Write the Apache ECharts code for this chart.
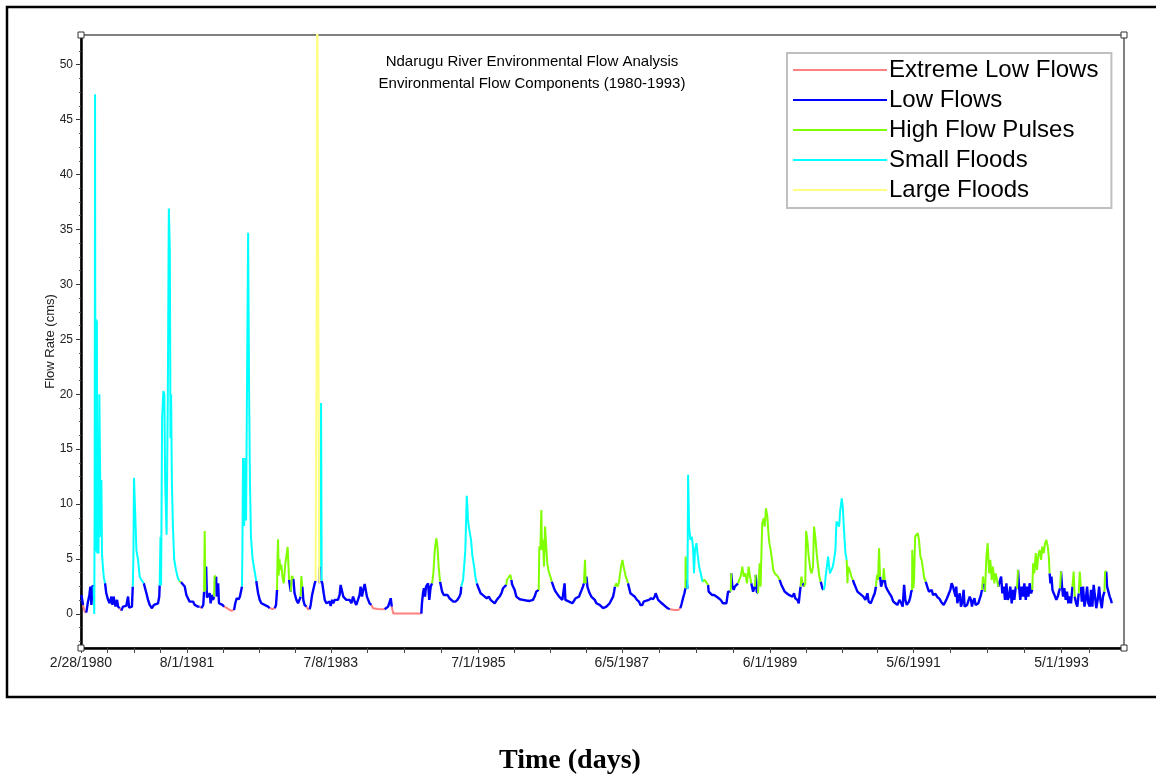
<!DOCTYPE html>
<html>
<head>
<meta charset="utf-8">
<title>Ndarugu River Environmental Flow Components</title>
<script src="https://cdn.jsdelivr.net/npm/echarts@6/dist/echarts.min.js"></script>
<style>
  html, body { margin: 0; padding: 0; background: #ffffff; }
  #chart { width: 1156px; height: 777px; }
</style>
</head>
<body>
<div id="chart"></div>
<script>
// series names / colours (legend order)
const componentNames = ['Extreme Low Flows', 'Low Flows', 'High Flow Pulses', 'Small Floods', 'Large Floods'];
const componentKeys = ['E', 'L', 'H', 'S', 'F'];
const componentColors = ['#ff8080', '#0000ff', '#80ff00', '#00ffff', '#ffff80'];

// x axis: days since 2/28/1980
const startDate = '1980-02-28';
const xLabelDates = ['1980-02-28', '1981-08-01', '1983-07-08', '1985-07-01', '1987-06-05', '1989-06-01', '1991-05-06', '1993-05-01'];
const xExtraTickDates = ['1993-09-13'];
const xAxisEndDay = 5118;

// y axis
const yLabelValues = [0, 5, 10, 15, 20, 25, 30, 35, 40, 45, 50];
const yAxisMin = -3.1;
const yAxisMax = 52.7;

const titleLines = ['Ndarugu River Environmental Flow Analysis', 'Environmental Flow Components (1980-1993)'];

// flow record (day offset, flow in cms, component code)
const dayOffset = [
  2, 10, 18, 26, 33, 41, 46, 51, 57, 62,
  65, 67, 69, 71, 74, 78, 80, 83, 86, 90,
  94, 97, 100, 103, 107, 112, 118, 124, 133, 141,
  149, 154, 160, 169, 177, 182, 190, 198, 206, 214,
  222, 231, 236, 244, 250, 254, 257, 260, 268, 272,
  280, 288, 296, 308, 312, 321, 329, 337, 348, 358,
  366, 378, 384, 386, 390, 393, 398, 404, 409, 413,
  420, 426, 431, 436, 439, 442, 446, 451, 457, 466,
  475, 482, 486, 490, 496, 509, 517, 525, 533, 542,
  550, 558, 566, 574, 582, 591, 600, 604, 607, 610,
  614, 618, 623, 632, 636, 643, 648, 653, 656, 663,
  666, 673, 677, 685, 694, 702, 708, 717, 725, 735,
  743, 751, 757, 764, 774, 780, 787, 790, 792, 795,
  800, 803, 806, 810, 820, 825, 829, 834, 842, 851,
  860, 869, 877, 885, 893, 901, 910, 918, 926, 934,
  942, 951, 957, 962, 964, 967, 970, 974, 979, 983,
  989, 995, 1002, 1014, 1021, 1029, 1035, 1042, 1048, 1057,
  1065, 1073, 1078, 1081, 1086, 1088, 1091, 1097, 1106, 1114,
  1122, 1127, 1134, 1140, 1147, 1151, 1153, 1156, 1159, 1166,
  1169, 1171, 1175, 1178, 1181, 1184, 1191, 1196, 1204, 1212,
  1220, 1225, 1232, 1238, 1245, 1253, 1261, 1269, 1274, 1281,
  1287, 1294, 1302, 1310, 1318, 1327, 1335, 1343, 1351, 1359,
  1367, 1372, 1379, 1385, 1392, 1398, 1403, 1408, 1416, 1425,
  1433, 1441, 1457, 1474, 1490, 1498, 1507, 1515, 1520, 1525,
  1529, 1533, 1670, 1673, 1678, 1683, 1688, 1693, 1700, 1703,
  1709, 1716, 1723, 1729, 1736, 1744, 1749, 1755, 1762, 1765,
  1772, 1780, 1788, 1798, 1808, 1817, 1827, 1837, 1847, 1857,
  1863, 1866, 1875, 1880, 1886, 1893, 1896, 1899, 1904, 1909,
  1914, 1920, 1929, 1935, 1942, 1945, 1951, 1961, 1971, 1981,
  1991, 2001, 2010, 2020, 2030, 2040, 2046, 2054, 2063, 2071,
  2079, 2087, 2090, 2099, 2107, 2112, 2115, 2120, 2128, 2136,
  2144, 2153, 2169, 2185, 2202, 2218, 2226, 2234, 2241, 2246,
  2249, 2254, 2259, 2262, 2267, 2272, 2277, 2283, 2288, 2295,
  2303, 2310, 2313, 2321, 2329, 2337, 2346, 2354, 2362, 2370,
  2373, 2377, 2385, 2395, 2403, 2411, 2419, 2427, 2436, 2444,
  2450, 2457, 2463, 2468, 2473, 2477, 2480, 2485, 2490, 2496,
  2504, 2513, 2521, 2529, 2537, 2545, 2553, 2562, 2570, 2578,
  2586, 2594, 2602, 2611, 2616, 2620, 2627, 2632, 2639, 2643,
  2650, 2657, 2661, 2666, 2673, 2679, 2684, 2688, 2696, 2706,
  2717, 2728, 2738, 2745, 2755, 2761, 2771, 2778, 2787, 2797,
  2807, 2815, 2820, 2827, 2832, 2840, 2850, 2859, 2869, 2879,
  2889, 2897, 2913, 2930, 2941, 2948, 2954, 2961, 2966, 2967,
  2971, 2976, 2979, 2984, 2990, 2997, 3003, 3008, 3013, 3020,
  3025, 3033, 3041, 3049, 3060, 3068, 3077, 3080, 3087, 3096,
  3106, 3118, 3129, 3139, 3150, 3158, 3167, 3175, 3183, 3188,
  3191, 3196, 3203, 3208, 3216, 3224, 3230, 3237, 3245, 3252,
  3260, 3268, 3276, 3283, 3289, 3298, 3306, 3311, 3316, 3322,
  3325, 3330, 3335, 3338, 3343, 3350, 3355, 3361, 3368, 3373,
  3378, 3384, 3391, 3397, 3404, 3412, 3420, 3428, 3437, 3445,
  3453, 3463, 3473, 3482, 3492, 3499, 3505, 3515, 3522, 3527,
  3531, 3535, 3541, 3548, 3554, 3558, 3564, 3571, 3579, 3585,
  3592, 3597, 3603, 3610, 3617, 3623, 3630, 3633, 3638, 3644,
  3649, 3654, 3661, 3666, 3671, 3675, 3682, 3689, 3695, 3702,
  3707, 3713, 3720, 3726, 3733, 3738, 3744, 3751, 3757, 3761,
  3764, 3772, 3780, 3788, 3793, 3800, 3810, 3819, 3829, 3839,
  3849, 3859, 3865, 3875, 3882, 3888, 3895, 3901, 3906, 3911,
  3916, 3921, 3926, 3931, 3936, 3939, 3944, 3949, 3957, 3967,
  3977, 3986, 3996, 4006, 4016, 4025, 4032, 4039, 4045, 4052,
  4063, 4070, 4074, 4078, 4079, 4084, 4088, 4093, 4099, 4106,
  4112, 4119, 4125, 4132, 4138, 4145, 4148, 4155, 4161, 4168,
  4174, 4181, 4187, 4194, 4200, 4207, 4214, 4220, 4227, 4233,
  4240, 4246, 4253, 4259, 4266, 4272, 4279, 4286, 4292, 4295,
  4300, 4305, 4312, 4318, 4325, 4331, 4336, 4341, 4348, 4354,
  4361, 4367, 4372, 4377, 4384, 4390, 4397, 4403, 4410, 4416,
  4421, 4426, 4431, 4436, 4443, 4449, 4456, 4462, 4469, 4475,
  4482, 4488, 4495, 4501, 4508, 4515, 4521, 4528, 4534, 4541,
  4547, 4554, 4560, 4567, 4574, 4580, 4587, 4593, 4598, 4603,
  4609, 4616, 4623, 4629, 4636, 4642, 4649, 4655, 4662, 4668,
  4672, 4678, 4685, 4691, 4698, 4704, 4711, 4717, 4724, 4731,
  4737, 4744, 4749, 4753, 4757, 4762, 4767, 4773, 4780, 4786,
  4793, 4799, 4804, 4809, 4814, 4819, 4825, 4832, 4838, 4845,
  4852, 4858, 4865, 4871, 4876, 4883, 4889, 4896, 4901, 4906,
  4911, 4917, 4924, 4930, 4937, 4943, 4950, 4956, 4963, 4969,
  4976, 4982, 4989, 4996, 5002, 5009, 5015, 5022, 5025, 5031,
  5035, 5041, 5048, 5054, 5058
];

const flowRate = [
  1.73, 0.82, 0.21, 0.12, 0.97, 1.73, 2.49, 0.82, 2.58, 2.49,
  0, 10, 47.3, 5.7, 26.8, 26.6, 5.5, 9, 5.5, 20,
  20, 7, 12.2, 5.5, 4.4, 3.3, 2.8, 1.88, 1.28, 0.97,
  1.58, 0.82, 1.58, 0.67, 1.28, 0.67, 0.52, 0.3, 0.67, 0.52,
  0.73, 1.58, 0.58, 0.52, 0.67, 2.49, 5, 12.4, 12.4, 5.8,
  4.9, 3.4, 3.1, 2.8, 2.79, 1.88, 1.28, 0.82, 0.52, 0.82,
  0.97, 0.97, 1.58, 2.6, 7, 2.6, 17.8, 20.3, 20, 12,
  7.2, 19.8, 36.9, 33, 16, 20, 12, 8, 5, 4,
  3.3, 3, 3.1, 2.9, 2.9, 2.49, 1.73, 1.58, 1.12, 0.97,
  1.12, 0.82, 0.82, 0.67, 0.67, 0.52, 0.82, 2.03, 7.56, 2.1,
  4.31, 1.5, 1.58, 1.88, 0.97, 1.73, 1.28, 1.58, 3.46, 3.4,
  1.58, 2.8, 0.97, 0.97, 0.82, 0.67, 0.52, 0.52, 0.52, 0.3,
  0.12, 0.36, 0.97, 1.43, 1.34, 1.58, 1.58, 2.49, 5.8, 14.2,
  8, 9, 14.2, 8.5, 34.7, 20, 12, 7, 5, 4,
  3, 1.88, 1.28, 0.97, 0.82, 0.82, 0.67, 0.67, 0.52, 0.5,
  0.45, 0.52, 0.82, 2.19, 4.9, 6.8, 3.5, 5, 4, 4.5,
  3.3, 2.8, 4.5, 6.1, 3.1, 2.03, 3.46, 3.2, 1.88, 1.28,
  0.97, 1.12, 1.58, 3.46, 2.5, 2.49, 1.28, 0.82, 0.67, 0.43,
  0.43, 0.82, 1.73, 1.88, 2.79, 3, 11, 22.9, 60, 60,
  2.8, 4.3, 4.3, 19.2, 3, 2.79, 1.88, 1.28, 0.97, 0.82,
  1.12, 0.73, 1.28, 0.97, 1.28, 1.12, 1.28, 1.73, 2.64, 2.73,
  1.58, 1.43, 1.28, 1.12, 1.28, 0.97, 1.58, 1.12, 0.82, 0.97,
  1.73, 2.49, 1.58, 2.19, 2.73, 2.73, 1.58, 1.58, 0.97, 0.82,
  0.52, 0.43, 0.45, 0.43, 0.43, 0.52, 0.67, 1.12, 1.43, 0.67,
  0.3, 0.03, 0.03, 0.97, 1.88, 2.34, 1.58, 2.49, 2.49, 2.79,
  1.28, 2.49, 2.79, 3.7, 5.83, 6.89, 6.13, 4.31, 2.94, 2.79,
  2.03, 1.73, 1.58, 1.73, 1.43, 1.28, 1.12, 1.12, 1.28, 1.58,
  1.88, 2.49, 3.1, 4.31, 5.83, 10.75, 9.78, 8.56, 7.8, 7.95,
  6.74, 5.37, 4.31, 3.4, 2.79, 2.79, 2.34, 1.88, 1.73, 1.58,
  1.43, 1.58, 1.28, 1.12, 0.97, 1.28, 1.28, 1.58, 1.88, 2.34,
  2.49, 2.64, 3.1, 3.34, 3.55, 3.1, 2.73, 2.49, 2.19, 1.58,
  1.43, 1.34, 1.28, 1.22, 1.18, 1.28, 1.58, 2.03, 1.88, 2.19,
  6.13, 5.83, 9.47, 5.83, 6.74, 4.31, 7.95, 6.13, 4.61, 3.86,
  3.4, 2.94, 2.79, 2.34, 2.03, 1.88, 1.58, 1.43, 1.28, 1.28,
  2.79, 1.28, 1.28, 1.12, 0.97, 0.97, 1.12, 1.43, 1.58, 1.58,
  1.88, 2.19, 2.49, 2.79, 4.92, 2.79, 3.4, 2.49, 2.19, 1.88,
  1.58, 1.43, 1.28, 0.97, 0.97, 0.82, 0.73, 0.52, 0.52, 0.67,
  0.82, 0.97, 1.03, 1.58, 2.03, 2.49, 2.79, 2.49, 2.79, 2.79,
  4.31, 4.92, 4.46, 4.01, 3.4, 3.1, 2.79, 2.79, 1.88, 1.73,
  1.58, 1.28, 1.12, 0.82, 0.82, 1.12, 1.18, 1.12, 1.28, 1.43,
  1.34, 1.58, 1.88, 1.73, 1.28, 1.12, 0.97, 0.82, 0.67, 0.52,
  0.43, 0.36, 0.36, 0.36, 0.52, 0.97, 1.43, 1.88, 2.34, 5.22,
  3.1, 2.3, 12.66, 7.95, 6.74, 7.04, 6.13, 3.7, 5.83, 6.44,
  5.53, 4.31, 3.7, 2.94, 3.1, 2.94, 2.64, 2.03, 1.88, 1.73,
  1.73, 1.58, 1.43, 1.28, 0.97, 0.82, 0.97, 2.03, 2.19, 2.03,
  3.7, 2.49, 2.19, 2.49, 2.34, 2.79, 3.1, 3.4, 4.31, 3.4,
  3.7, 2.79, 4.31, 3.4, 2.79, 2.03, 2.49, 3.55, 2.03, 1.88,
  2.79, 4.61, 2.49, 4.92, 8.26, 8.71, 7.95, 9.62, 8.86, 7.35,
  6.44, 5.83, 4.92, 4.01, 3.7, 3.55, 3.4, 3.1, 2.64, 2.34,
  2.03, 1.88, 1.73, 1.88, 1.58, 1.88, 1.43, 1.28, 0.97, 1.88,
  2.49, 3.4, 2.79, 2.49, 2.79, 7.56, 6.74, 5.22, 4.01, 3.7,
  4.31, 7.95, 7.04, 5.53, 4.31, 3.4, 2.94, 2.79, 2.34, 2.19,
  2.49, 3.4, 3.4, 5.22, 4.31, 3.7, 3.7, 4.31, 4.92, 5.83,
  8.41, 8.56, 7.95, 9.47, 10.53, 9.78, 7.65, 5.53, 4.92, 2.79,
  4.31, 4.01, 3.4, 3.1, 2.79, 2.49, 2.03, 1.88, 1.73, 1.58,
  1.28, 1.88, 1.12, 0.97, 1.28, 1.58, 1.88, 2.49, 3.55, 3.1,
  5.98, 3.4, 2.49, 2.64, 3.1, 4.16, 3.1, 2.49, 2.19, 1.88,
  1.58, 1.12, 0.97, 0.82, 1.28, 0.97, 0.67, 2.64, 1.28, 0.82,
  1.12, 1.58, 2.03, 2.19, 5.83, 2.34, 3.1, 7.04, 7.19, 7.35,
  6.74, 5.22, 4.92, 4.01, 3.25, 2.94, 2.79, 2.34, 2.03, 1.88,
  2.19, 1.73, 1.58, 1.82, 1.58, 1.43, 1.34, 1.12, 0.97, 0.82,
  0.97, 1.28, 1.58, 1.88, 2.19, 2.79, 2.49, 2.64, 1.58, 2.49,
  0.97, 0.82, 1.88, 0.67, 1.12, 2.19, 0.67, 0.52, 0.82, 0.82,
  1.58, 1.28, 0.67, 1.12, 1.43, 0.82, 0.67, 0.97, 1.12, 1.73,
  2.19, 3.4, 2.79, 2.03, 5.22, 6.44, 3.7, 4.92, 3.1, 4.31,
  2.79, 3.7, 3.1, 2.49, 2.49, 3.4, 1.88, 2.49, 1.28, 2.79,
  1.28, 1.58, 2.49, 0.97, 2.19, 1.28, 2.49, 2.3, 4.01, 2.49,
  1.28, 2.49, 1.58, 2.79, 1.28, 2.49, 1.58, 2.79, 1.88, 2.19,
  4.61, 3.7, 5.53, 4.01, 5.37, 5.83, 4.92, 6.13, 5.53, 6.44,
  6.74, 6.13, 5.22, 3.7, 2.79, 3.4, 2.19, 1.88, 1.58, 1.28,
  1.58, 2.03, 2.34, 3.86, 2.49, 1.58, 2.34, 1.28, 2.03, 0.97,
  1.58, 0.97, 2.49, 3.86, 1.58, 0.97, 0.67, 1.88, 3.86, 2.49,
  1.12, 2.49, 0.67, 1.28, 2.49, 0.97, 0.67, 2.19, 0.67, 2.64,
  1.58, 0.52, 1.28, 2.49, 1.28, 0.52, 1.58, 2.03, 3.86, 3.86,
  2.49, 2.49, 1.58, 1.28, 0.97
];

// E = extreme low, L = low, H = high flow pulse, S = small flood, F = large flood
const componentCodes = (
  'LLEELLLLLL' + 'SSSSSSSSSS' + 'SSSSSSSLLL' + 'LLLLLLLELL' + 'LLLLLLSSSS' +
  'SSSSLLLLLL' + 'LLLLSSSSSS' + 'SSSSSSSSSS' + 'SSHHLLLLLL' + 'LLLLLELLHH' +
  'LLLLLLLLHH' + 'LLLLLLEEEE' + 'EELLLLLLSS' + 'SSSSSSSSSS' + 'SLLLLLLLLE' +
  'EELLHHHHHH' + 'HHHHHLHHLL' + 'LLLHHLLLLE' + 'ELLLLLFFFF' + 'FLLSSLLLLL' +
  'LLLLLLLLLL' + 'LLLLLLLLLL' + 'LLLLLLLLLL' + 'EEEEELLLLL' + 'EEELLLLLLL' +
  'LLLHHHHHHL' + 'LLLLLLLLLL' + 'LLSSSSSSSS' + 'SSSSSLLLLL' + 'LLLLLLLLLL' +
  'LLHHHHLLLL' + 'LLLLLLLLLL' + 'HHHHHHHHHH' + 'HHLLLLLLLL' + 'LLLLLLLLLL' +
  'LLLLHHLLLL' + 'LLLLLLLLLL' + 'LLLLLLHHHH' + 'HHHHHHHLLL' + 'LLLLLLLLLL' +
  'LLLLLLLLLL' + 'LEEEELLLLH' + 'HLSSSSSSSS' + 'SSSSHHHLLL' + 'LLLLLLLLLL' +
  'HLLLLLHHHH' + 'HHHHHLLHLL' + 'HHHHHHHHHH' + 'HHHHHHHHLL' + 'LLLLLLLLLL' +
  'LHHLHHHHHH' + 'HHHHHHHLLL' + 'SSSSSSSSSS' + 'SSSSSSSSSH' + 'HHHHLLLLLL' +
  'LLLLLLLLHH' + 'HHLLLHHLLL' + 'LLLLLLLLLL' + 'LLLLHHHHHH' + 'HHHHHHLLLL' +
  'LLLLLLLLLL' + 'LLLLLLLLLL' + 'LLLLLLLLLL' + 'LLLLLLLLLL' + 'LHHLHHHHHH' +
  'HHHHLLLLLL' + 'LLLLLLLLHL' + 'LLLLLLLLLL' + 'HHHHHHHHHH' + 'HHHHLLLLLL' +
  'LLLHLLLLLL' + 'LLLHHLLLHH' + 'LLLLLLLLLL' + 'LLLLLLLLHH' + 'LLLLL'
).split('');

if (dayOffset.length !== flowRate.length || dayOffset.length !== componentCodes.length) {
  console.error('data length mismatch', dayOffset.length, flowRate.length, componentCodes.length);
}

function toDay(s) {
  const p = s.split('-').map(Number);
  const q = startDate.split('-').map(Number);
  return Math.round((Date.UTC(p[0], p[1] - 1, p[2]) - Date.UTC(q[0], q[1] - 1, q[2])) / 86400000);
}

function dayLabel(v) {
  const q = startDate.split('-').map(Number);
  const d = new Date(Date.UTC(q[0], q[1] - 1, q[2]) + Math.round(v) * 86400000);
  return (d.getUTCMonth() + 1) + '/' + d.getUTCDate() + '/' + d.getUTCFullYear();
}

const xLabelDays = xLabelDates.map(toDay);
// minor ticks: each labelled interval split in four
const xTickDays = [];
for (let i = 0; i < xLabelDays.length; i++) {
  xTickDays.push(xLabelDays[i]);
  if (i < xLabelDays.length - 1) {
    const a = xLabelDays[i], b = xLabelDays[i + 1];
    for (let k = 1; k < 4; k++) xTickDays.push(a + (b - a) * k / 4);
  }
}
xExtraTickDates.forEach(d => xTickDays.push(toDay(d)));

const yMinorTicks = [];
for (let v = -2.5; v <= 52.5; v += 1.25) yMinorTicks.push(v);

// each segment (i-1 -> i) gets the colour of point i's component
function segmentsFor(key) {
  const out = [];
  let last = -2;
  for (let i = 1; i < dayOffset.length; i++) {
    if (componentCodes[i] !== key) continue;
    if (last !== i - 1) {
      if (out.length) out.push([dayOffset[i - 1], '-']);
      out.push([dayOffset[i - 1], flowRate[i - 1]]);
    }
    out.push([dayOffset[i], flowRate[i]]);
    last = i;
  }
  return out;
}

const chart = echarts.init(document.getElementById('chart'));

const font = 'Liberation Sans, Arial, sans-serif';

chart.setOption({
  animation: false,
  backgroundColor: '#ffffff',
  title: [
    {
      text: titleLines.join('\n'),
      left: 532,
      top: 51,
      textAlign: 'center',
      padding: 0,
      textStyle: { fontFamily: font, fontSize: 15, lineHeight: 22, fontWeight: 'normal', color: '#000' }
    },
    {
      text: 'Time (days)',
      left: 570,
      top: 745,
      textAlign: 'center',
      padding: 0,
      textStyle: { fontFamily: 'Liberation Serif, Times New Roman, serif', fontSize: 28, lineHeight: 32, fontWeight: 'bold', color: '#000' }
    }
  ],
  legend: {
    orient: 'vertical',
    left: 787,
    top: 53,
    icon: 'rect',
    itemWidth: 94,
    itemHeight: 2,
    itemGap: 0,
    padding: [2, 13, 3, 6],
    backgroundColor: '#ffffff',
    borderColor: '#c0c0c0',
    borderWidth: 2,
    selectedMode: false,
    textStyle: { fontFamily: font, fontSize: 24, lineHeight: 30, color: '#000', padding: [0, 0, 0, -3] },
    data: componentNames
  },
  grid: {
    left: 81,
    right: 32,
    top: 35,
    bottom: 129,
    show: true,
    borderColor: '#808080',
    borderWidth: 2
  },
  xAxis: {
    type: 'value',
    min: 0,
    max: xAxisEndDay,
    axisLine: { show: true, onZero: false, lineStyle: { color: '#000', width: 2.5 } },
    axisTick: { show: true, customValues: xTickDays, length: 5, lineStyle: { color: '#444' } },
    axisLabel: { customValues: xLabelDays, formatter: dayLabel, fontFamily: font, fontSize: 14, color: '#222', margin: 8 },
    splitLine: { show: false }
  },
  yAxis: [
    {
      type: 'value',
      min: yAxisMin,
      max: yAxisMax,
      name: 'Flow Rate (cms)',
      nameLocation: 'middle',
      nameGap: 24,
      nameMoveOverlap: false,
      nameTextStyle: { fontFamily: font, fontSize: 13, color: '#222' },
      axisLine: { show: true, onZero: false, lineStyle: { color: '#000', width: 2.5 } },
      axisTick: { show: true, customValues: yMinorTicks, length: 2, lineStyle: { color: '#555' } },
      axisLabel: { customValues: yLabelValues, fontFamily: font, fontSize: 12, color: '#222', margin: 8 },
      splitLine: { show: false }
    },
    {
      type: 'value',
      min: yAxisMin,
      max: yAxisMax,
      position: 'left',
      axisLine: { show: false },
      axisTick: { show: true, customValues: yLabelValues, length: 5, lineStyle: { color: '#333' } },
      axisLabel: { show: false },
      splitLine: { show: false }
    }
  ],
  series: componentKeys.map((key, i) => ({
    name: componentNames[i],
    type: 'line',
    data: segmentsFor(key),
    showSymbol: false,
    symbol: 'none',
    connectNulls: false,
    itemStyle: { color: componentColors[i] },
    lineStyle: { color: componentColors[i], width: key === 'L' ? 2.4 : 2 },
    emphasis: { disabled: true }
  })),
  graphic: [
    {
      type: 'rect',
      silent: true,
      z: 100,
      shape: { x: 7, y: 7, width: 1160, height: 690 },
      style: { fill: 'none', stroke: '#000', lineWidth: 2.5 }
    },
    { type: 'rect', silent: true, z: 100, shape: { x: 78, y: 32, width: 6, height: 6 }, style: { fill: '#fff', stroke: '#333', lineWidth: 1 } },
    { type: 'rect', silent: true, z: 100, shape: { x: 1121, y: 32, width: 6, height: 6 }, style: { fill: '#fff', stroke: '#333', lineWidth: 1 } },
    { type: 'rect', silent: true, z: 100, shape: { x: 78, y: 645, width: 6, height: 6 }, style: { fill: '#fff', stroke: '#333', lineWidth: 1 } },
    { type: 'rect', silent: true, z: 100, shape: { x: 1121, y: 645, width: 6, height: 6 }, style: { fill: '#fff', stroke: '#333', lineWidth: 1 } }
  ]
});
</script>
</body>
</html>
